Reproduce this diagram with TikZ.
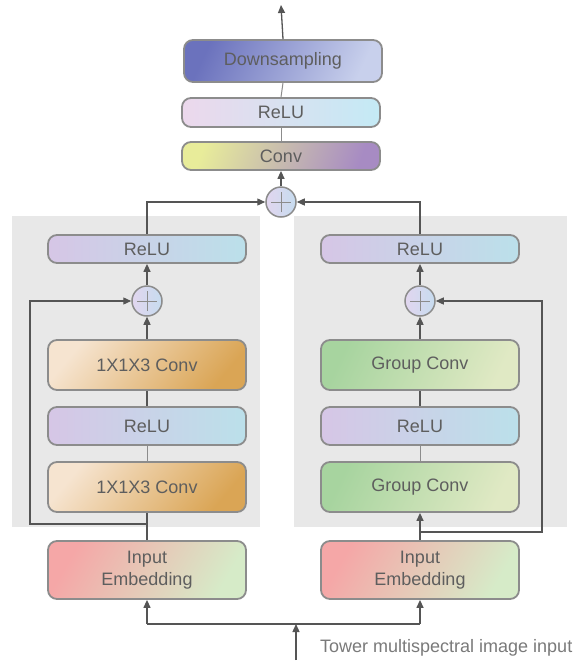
\documentclass[tikz,border=0pt]{standalone}
\usepackage{fontspec}
\setmainfont{Liberation Sans}
\usetikzlibrary{arrows.meta}
\definecolor{txt}{HTML}{5E5E5E}
\definecolor{lbl}{HTML}{7A7A7A}
\definecolor{bord}{HTML}{8C8C8C}
\definecolor{conn}{HTML}{555555}
\definecolor{panel}{HTML}{E8E8E8}
\definecolor{dsL}{HTML}{6B72BD}
\definecolor{dsR}{HTML}{C8D0EC}
\definecolor{rtL}{HTML}{ECD8EC}
\definecolor{rtR}{HTML}{C4EAF5}
\definecolor{ctL}{HTML}{E8EC9A}
\definecolor{ctM}{HTML}{E6E09E}
\definecolor{ctR}{HTML}{A78BC3}
\definecolor{rpL}{HTML}{D6C6E6}
\definecolor{rpR}{HTML}{BBE0EA}
\definecolor{cbL}{HTML}{F6E4D0}
\definecolor{cbM}{HTML}{F1DCB8}
\definecolor{cbR}{HTML}{DAA555}
\definecolor{gcL}{HTML}{A7D49F}
\definecolor{gcM}{HTML}{D2E4B8}
\definecolor{gcR}{HTML}{E0E9C4}
\definecolor{emL}{HTML}{F5A7A7}
\definecolor{emM}{HTML}{EFDAC2}
\definecolor{emR}{HTML}{D6EBC8}
\definecolor{plL}{HTML}{E2D6EF}
\definecolor{plR}{HTML}{C6DCEF}
\tikzset{
  blk/.style={draw=bord, line width=1.8pt, rounded corners=9pt, inner sep=0pt,
    minimum width=198pt, text=txt, font=\fontsize{18}{22}\selectfont, align=center},
  dsbox/.style={blk, left color=dsL, right color=dsR, shading angle=65},
  relubox/.style={blk, left color=rtL, right color=rtR},
  convtopbox/.style={blk, left color=ctL, middle color=ctM, right color=ctR, shading angle=70},
  relupbox/.style={blk, left color=rpL, right color=rpR},
  c113box/.style={blk, left color=cbL, middle color=cbM, right color=cbR, shading angle=50},
  gcbox/.style={blk, left color=gcL, middle color=gcM, right color=gcR, shading angle=65},
  embbox/.style={blk, left color=emL, middle color=emM, right color=emR, shading angle=60},
  plusnode/.style={circle, draw=bord, line width=1.5pt, minimum size=30pt, inner sep=0pt,
    left color=plL, right color=plR,
    path picture={\draw[bord, line width=1pt]
      ([xshift=-10pt]path picture bounding box.center) -- ([xshift=10pt]path picture bounding box.center)
      ([yshift=-10pt]path picture bounding box.center) -- ([yshift=10pt]path picture bounding box.center);}},
  arr/.style={draw=conn, line width=1.3pt, -{Triangle[length=8pt,width=7pt]}},
  ln/.style={draw=conn, line width=1.3pt},
  lnlight/.style={draw=bord, line width=1pt},
}
\begin{document}
\begin{tikzpicture}[x=1pt,y=-1pt]
\useasboundingbox (0,0) rectangle (576,662);
\fill[white] (0,0) rectangle (576,662);
% panels
\fill[panel] (12,216) rectangle (260,527);
\fill[panel] (294,216) rectangle (567,527);

% top stack
\node[dsbox, minimum height=42pt] (down) at (283,61) {Downsampling};
\node[relubox, minimum height=29pt] (relutop) at (281,112.5) {ReLU};
\node[convtopbox, minimum height=28pt] (convtop) at (281,156) {Conv};
\node[plusnode] (plustop) at (281,202) {};
\coordinate (out) at (281,5);

% left tower
\node[relupbox, minimum height=28pt] (reluL) at (147,249) {ReLU};
\node[plusnode] (plusL) at (147,301) {};
\node[c113box, minimum height=50pt] (c1L) at (147,365) {1X1X3 Conv};
\node[relupbox, minimum height=38pt] (r2L) at (147,426) {ReLU};
\node[c113box, minimum height=50pt] (c2L) at (147,487) {1X1X3 Conv};
\node[embbox, minimum height=58pt] (embL) at (147,570) {Input\\Embedding};

% right tower
\node[relupbox, minimum height=28pt] (reluR) at (420,249) {ReLU};
\node[plusnode] (plusR) at (420,301) {};
\node[gcbox, minimum height=50pt] (c1R) at (420,365) {Group Conv};
\node[relupbox, minimum height=38pt] (r2R) at (420,426) {ReLU};
\node[gcbox, minimum height=50pt] (c2R) at (420,487) {Group Conv};
\node[embbox, minimum height=58pt] (embR) at (420,570) {Input\\Embedding};

% coordinates
\coordinate (tl) at (147,202);
\coordinate (tr) at (420,202);
\coordinate (skL) at (147,524);
\coordinate (skLc) at (30,524);
\coordinate (skLt) at (30,301);
\coordinate (skR) at (420,532);
\coordinate (skRc) at (542,532);
\coordinate (skRt) at (542,301);
\coordinate (bl) at (147,624);
\coordinate (br) at (420,624);
\coordinate (inb) at (296,660);
\coordinate (inm) at (296,624);

% top connections
\draw[arr] (down.north) -- (out);
\draw[lnlight] (relutop.north) -- (down.south);
\draw[lnlight] (convtop.north) -- (relutop.south);
\draw[arr] (plustop.north) -- (convtop.south);
\draw[arr] (reluL.north) -- (tl) -- (plustop.west);
\draw[arr] (reluR.north) -- (tr) -- (plustop.east);

% left tower connections
\draw[arr] (plusL.north) -- (reluL.south);
\draw[arr] (c1L.north) -- (plusL.south);
\draw[ln] (r2L.north) -- (c1L.south);
\draw[lnlight] (c2L.north) -- (r2L.south);
\draw[ln] (embL.north) -- (c2L.south);
\draw[arr] (skL) -- (skLc) -- (skLt) -- (plusL.west);

% right tower connections
\draw[arr] (plusR.north) -- (reluR.south);
\draw[arr] (c1R.north) -- (plusR.south);
\draw[ln] (r2R.north) -- (c1R.south);
\draw[lnlight] (c2R.north) -- (r2R.south);
\draw[arr] (embR.north) -- (c2R.south);
\draw[arr] (skR) -- (skRc) -- (skRt) -- (plusR.east);

% input
\draw[ln] (bl) -- (br);
\draw[arr] (bl) -- (embL.south);
\draw[arr] (br) -- (embR.south);
\draw[arr] (inb) -- (inm);
\node[anchor=base west, inner sep=0pt, text=lbl, font=\fontsize{18}{22}\selectfont] (lab) at (320,652) {Tower multispectral image input};
\end{tikzpicture}
\end{document}
